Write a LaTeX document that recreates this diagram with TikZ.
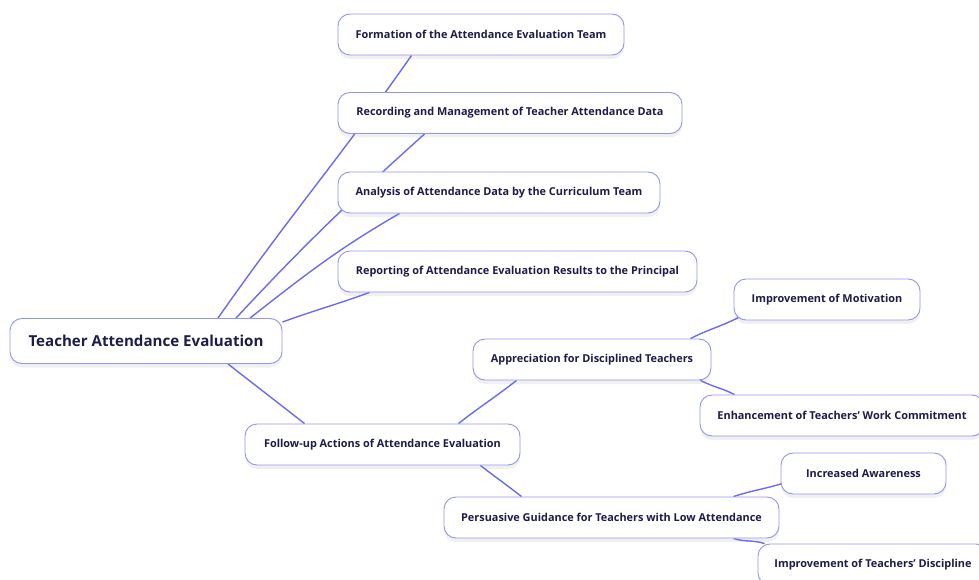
\documentclass[tikz,border=0pt]{standalone}
\usepackage{fontspec}
\setmainfont{Open Sans}
\usetikzlibrary{shadows,backgrounds,calc}

\definecolor{linkblue}{HTML}{6B6BF2}
\definecolor{boxline}{HTML}{9494F4}
\definecolor{inkdark}{HTML}{1E1C48}

\begin{document}
\begin{tikzpicture}[x=1pt, y=-1pt,
  topic/.style={draw=boxline, line width=0.9pt, fill=white, rounded corners=12pt,
    minimum height=41pt, inner xsep=0pt, text=inkdark, font=\fontsize{10.9}{13}\selectfont\bfseries,
    drop shadow={opacity=0.12, shadow xshift=0pt, shadow yshift=-4pt}},
  rootbox/.style={topic, minimum height=45pt, font=\fontsize{15.1}{18}\selectfont\bfseries},
  link/.style={linkblue, line width=1.4pt}]

\useasboundingbox (0,0) rectangle (979,580);

% Central topic
\node[rootbox, minimum width=272pt] (root) at (146,341) {Teacher Attendance Evaluation};

% Evaluation procedure
\node[topic, minimum width=286pt] (formation) at (481,34.5) {Formation of the Attendance Evaluation Team};
\node[topic, minimum width=344pt] (recording) at (510,113) {Recording and Management of Teacher Attendance Data};
\node[topic, minimum width=322pt] (analysis) at (499,192.5) {Analysis of Attendance Data by the Curriculum Team};
\node[topic, minimum width=359pt] (reporting) at (517.5,271.5) {Reporting of Attendance Evaluation Results to the Principal};

% Follow-up branch
\node[topic, minimum width=275pt] (followup) at (382.5,444.5) {Follow-up Actions of Attendance Evaluation};
\node[topic, minimum width=238pt] (appreciation) at (592,359.5) {Appreciation for Disciplined Teachers};
\node[topic, minimum width=335pt] (persuasive) at (611.5,517.5) {Persuasive Guidance for Teachers with Low Attendance};
\node[topic, minimum width=186pt] (motivation) at (827,299.5) {Improvement of Motivation};
\node[topic, minimum width=284pt] (commitment) at (842,415.5) {Enhancement of Teachers’ Work Commitment};
\node[topic, minimum width=165pt] (awareness) at (863.5,473.5) {Increased Awareness};
\node[topic, minimum width=230pt] (discipline) at (873,564.5) {Improvement of Teachers’ Discipline};

% Connectors behind the boxes
\begin{pgfonlayer}{background}
\draw[link] ([xshift=72pt]root.north) to[out=55, in=-125] ([xshift=74pt]formation.south west);
\draw[link] ([xshift=90pt]root.north) to[out=47, in=-138] ([xshift=87pt]recording.south west);
\draw[link] ([xshift=104pt]root.north) to[out=38, in=-150] ([xshift=62pt]analysis.south west);
\draw[link] ([yshift=-4pt]root.north east) to[out=20, in=-160] ([xshift=32pt]reporting.south west);
\draw[link] ([xshift=82pt]root.south) to[out=-38, in=142] ([xshift=60pt]followup.north west);

\draw[link] ([xshift=-62pt]followup.north east) to[out=38, in=-142] ([xshift=44pt]appreciation.south west);
\draw[link] ([xshift=-40pt]followup.south east) to[out=-38, in=142] ([xshift=78pt]persuasive.north west);

\draw[link] ([xshift=-21pt]appreciation.north east) to[out=27, in=-153] ([xshift=5pt,yshift=3pt]motivation.south west);
\draw[link] ([xshift=-11pt]appreciation.south east) to[out=-27, in=153] ([xshift=35pt]commitment.north west);
\draw[link] ([xshift=-46pt]persuasive.north east) to[out=18, in=-162] ([xshift=5pt,yshift=12pt]awareness.south west);
\draw[link] ([xshift=-46pt]persuasive.south east) to[out=-18, in=162] ([xshift=7pt]discipline.north west);
\end{pgfonlayer}

\end{tikzpicture}
\end{document}
